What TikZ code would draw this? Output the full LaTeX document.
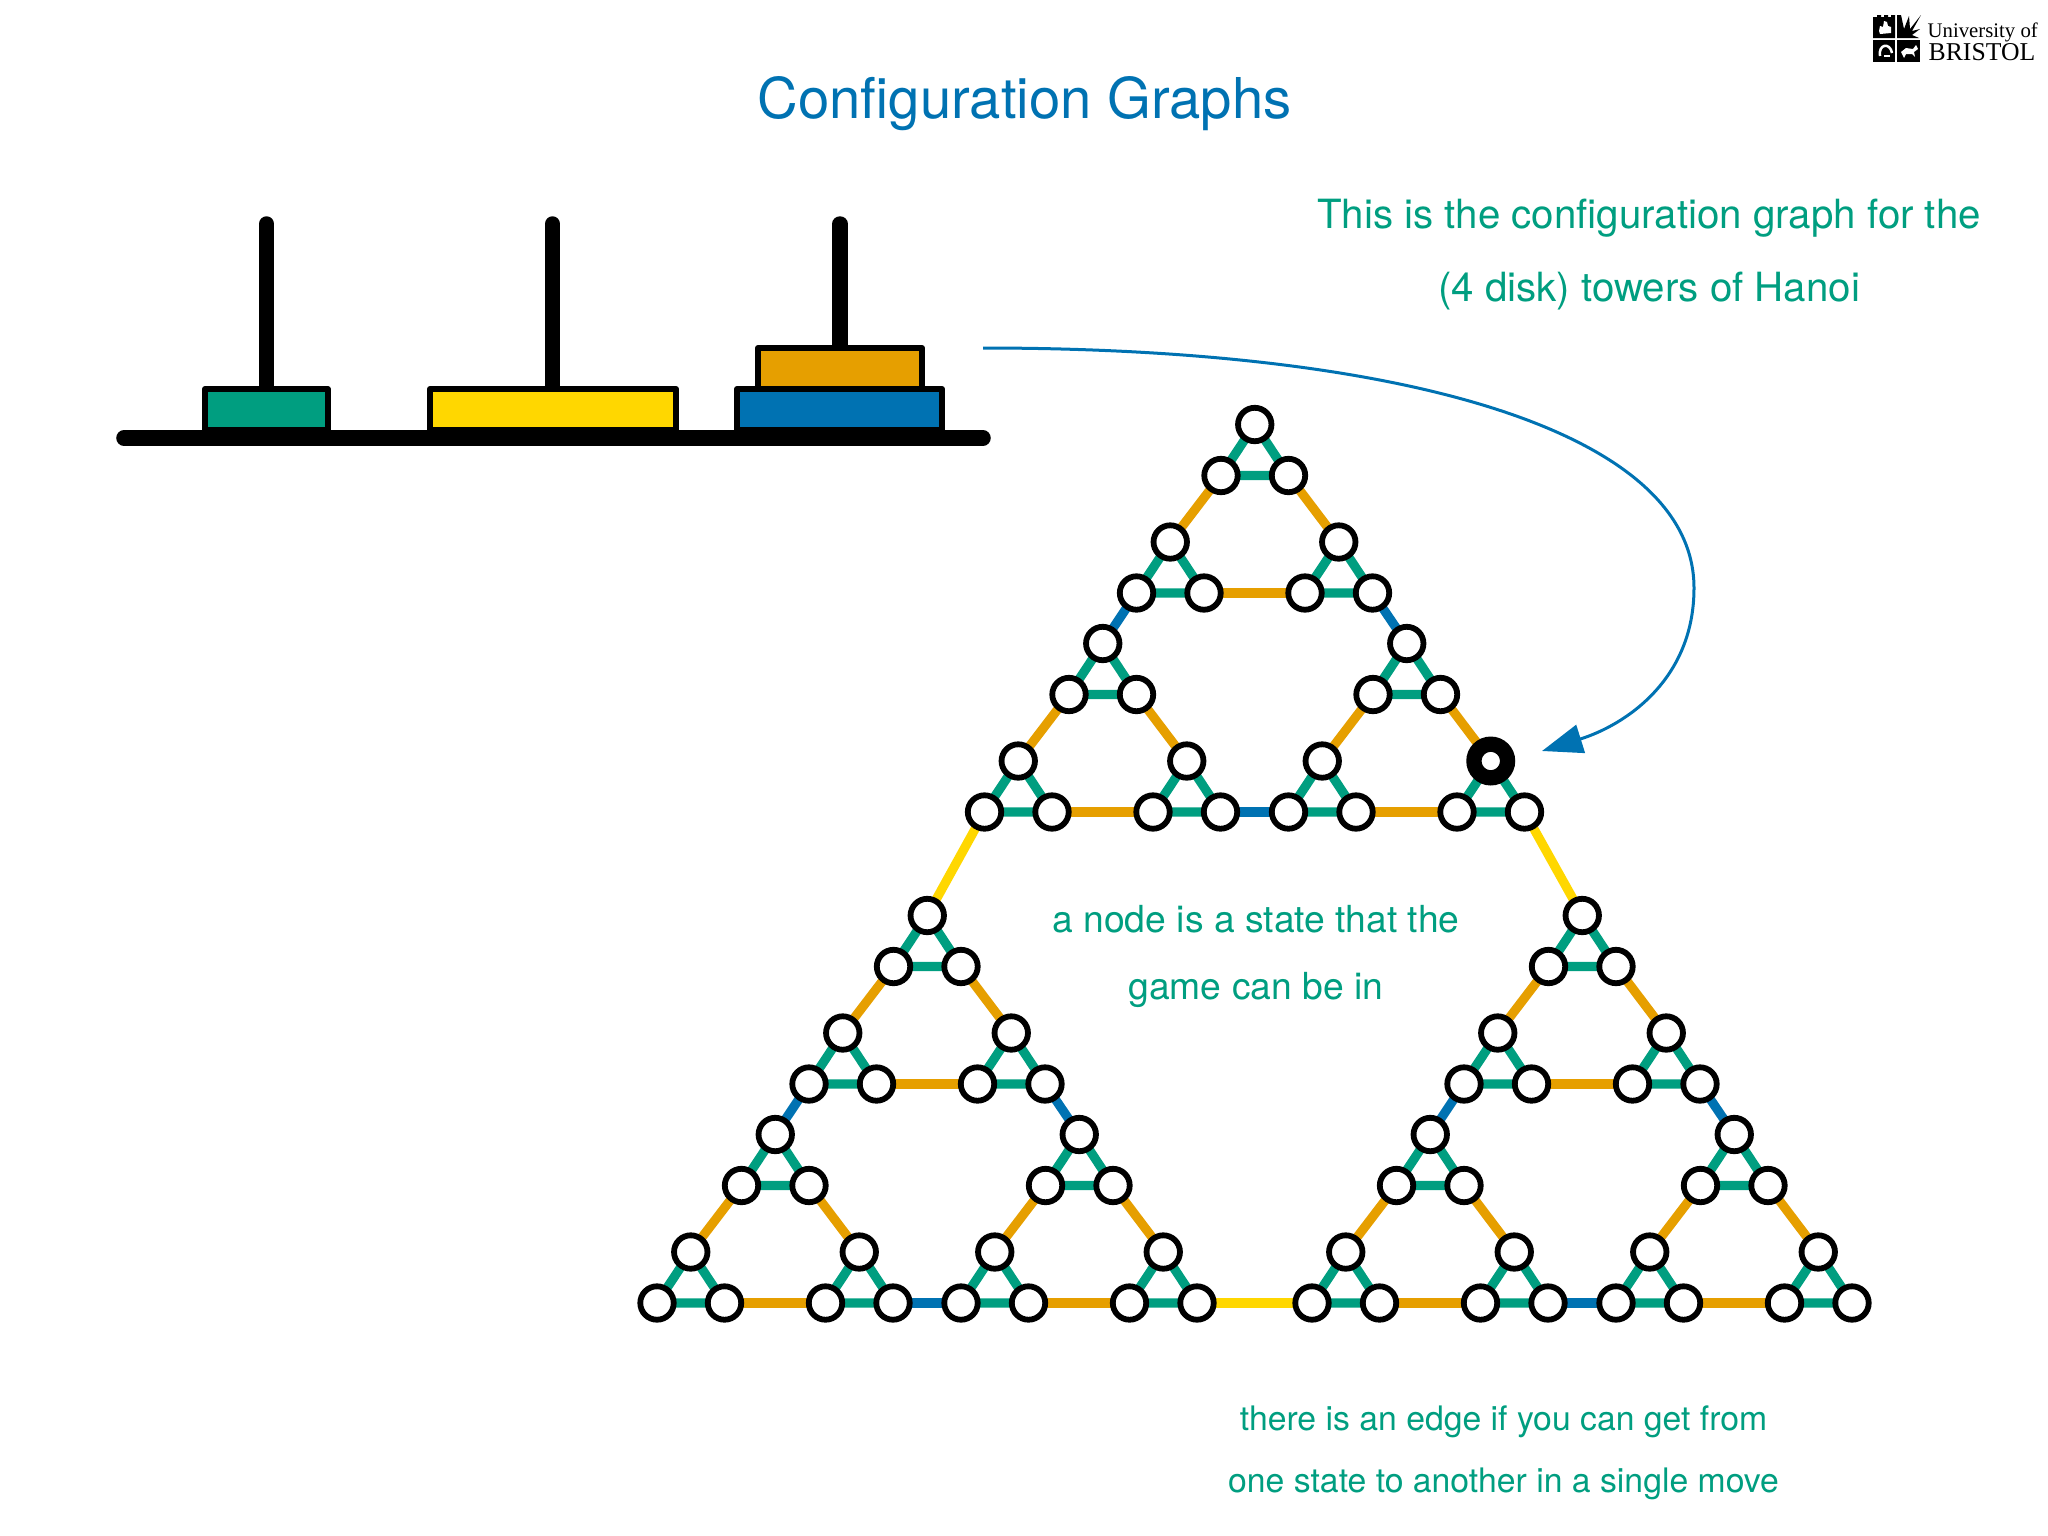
\documentclass[tikz,border=0pt]{standalone}
\usepackage{fontspec}
\setmainfont{TeX Gyre Heros}
\newfontfamily\logofont{Liberation Serif}
\usetikzlibrary{arrows.meta, backgrounds}
\definecolor{mygreen}{HTML}{009E80}
\definecolor{myorange}{HTML}{E69F00}
\definecolor{myblue}{HTML}{0072B2}
\definecolor{myyellow}{HTML}{FFD700}
\tikzset{
    hnode/.style={circle, draw=black, fill=white, line width=0.58mm, minimum size=3.34mm, inner sep=0pt},
    hstate/.style={circle, draw=black, fill=white, line width=1.53mm, minimum size=3.36mm, inner sep=0pt},
    hedge/.style={line width=0.92mm},
    disk/.style={draw=black, line width=0.6mm, line join=round},
    rod/.style={line width=1.55mm, line cap=round},
    greentext/.style={text=mygreen, font=\fontsize{11.45}{14}\selectfont, inner sep=0pt}
}

\begin{document}
\begin{tikzpicture}[x=0.01cm, y=-0.01cm]
        \useasboundingbox (0,0) rectangle (2048,1536);
        \node[text=myblue, font=\fontsize{16}{20}\selectfont, inner sep=0pt] (title) at (1024.5,104) {Configuration Graphs};

        % logo
        \fill (1873,17) -- (1877,17) -- (1877,15) -- (1881,15) -- (1881,17) -- (1884,17) -- (1884,15) -- (1888,15) -- (1888,17) -- (1891,17) -- (1891,15) -- (1895,15) -- (1895,38) -- (1873,38) -- cycle;
        \fill (1873,40) rectangle (1895,62);
        \fill (1897,40) rectangle (1920,62);
        \fill (1897,38) -- (1897,15) -- (1901,15) -- (1904,29) -- (1909,16) -- (1910,29) -- (1921,15) -- (1912,31) -- (1920,29) -- (1912,35) -- (1919,38) -- cycle;
        \fill[white] (1879,31) -- (1880,26) -- (1883,27) -- (1884,21) -- (1887,22) -- (1888,26) -- (1891,27) -- (1891,33) -- (1880,34) -- cycle;
        \draw[white, line width=0.25mm] (1880,56) .. controls (1878,44) and (1890,42) .. (1892,53);
        \fill[white] (1884,55) rectangle (1890,57);
        \fill[white] (1901,52) -- (1906,48) -- (1913,49) -- (1916,45) -- (1918,49) -- (1914,52) -- (1915,57) -- (1912,54) -- (1906,54) -- (1904,58) -- cycle;
        \node[font=\logofont\fontsize{5.9}{7}\selectfont, anchor=base west, inner sep=0pt] (uni) at (1927,37) {University of};
        \node[font=\logofont\fontsize{7.3}{8}\selectfont, anchor=base west, inner sep=0pt] (bristol) at (1928,60) {BRISTOL};

        % towers
        \draw[rod] (266.6,224) -- (266.6,400);
        \draw[rod] (552.5,224) -- (552.5,400);
        \draw[rod] (840,224) -- (840,360);
        \draw[disk, fill=mygreen] (205,389) rectangle (327.8,430);
        \draw[disk, fill=myyellow] (430,389) rectangle (676,430);
        \draw[disk, fill=myorange] (758,348) rectangle (922,389);
        \draw[disk, fill=myblue] (737,389) rectangle (942,430);
        \draw[rod] (124,438) -- (983,438);

        % graph
        \foreach \ka/\xa/\ya in {l/0/0, r/655/0, t/327.5/-491}
        \foreach \kb/\xb/\yb in {l/0/0, r/304/0, t/152/-219}
        \foreach \kc/\xc/\yc in {l/0/0, r/168.5/0, t/84.5/-117.5}
        \foreach \kd/\xd/\yd in {l/0/0, r/67.5/0, t/33.75/-51}
            \node[hnode] (n-\ka-\kb-\kc-\kd) at ({657+\xa+\xb+\xc+\xd},{1303+\ya+\yb+\yc+\yd}) {};
        \node[hstate] (current) at (n-t-r-r-t) {};

        \begin{pgfonlayer}{background}
            \foreach \ka in {l,r,t}
            \foreach \kb in {l,r,t} {
                \foreach \kc in {l,r,t}
                    \draw[hedge, mygreen] (n-\ka-\kb-\kc-l.center) -- (n-\ka-\kb-\kc-r.center) -- (n-\ka-\kb-\kc-t.center) -- cycle;
                \foreach \ea/\eb in {l-r/r-l, l-t/t-l, r-t/t-r}
                    \draw[hedge, myorange] (n-\ka-\kb-\ea.center) -- (n-\ka-\kb-\eb.center);
            }
            \foreach \ka in {l,r,t}
            \foreach \ea/\eb in {l-r-r/r-l-l, l-t-t/t-l-l, r-t-t/t-r-r}
                \draw[hedge, myblue] (n-\ka-\ea.center) -- (n-\ka-\eb.center);
            \foreach \ea/\eb in {l-r-r-r/r-l-l-l, l-t-t-t/t-l-l-l, r-t-t-t/t-r-r-r}
                \draw[hedge, myyellow] (n-\ea.center) -- (n-\eb.center);
        \end{pgfonlayer}

        % arrow to the current state
        \coordinate (arrowstart) at (983,348);
        \coordinate (arrowmid) at (1694,588);
        \coordinate (arrowtip) at (1542,751);
        \draw[-{Triangle[length=4.05mm, width=2.9mm]}, myblue, line width=0.3mm] (arrowstart) .. controls (1400,348) and (1694,430) .. (arrowmid) .. controls (1694,680) and (1625,725) .. (arrowtip);

        \node[greentext] (topa) at (1649,218) {This is the configuration graph for the};
        \node[greentext] (topb) at (1649,291) {(4 disk) towers of Hanoi};
        \node[greentext, font=\fontsize{10.6}{14}\selectfont] (mida) at (1256,919) {a node is a state that the};
        \node[greentext, font=\fontsize{10.6}{14}\selectfont] (midb) at (1256,990) {game can be in};
        \node[greentext, font=\fontsize{9.6}{14}\selectfont] (bota) at (1503.5,1422) {there is an edge if you can get from};
        \node[greentext, font=\fontsize{9.6}{14}\selectfont] (botb) at (1503.5,1483.5) {one state to another in a single move};
    \end{tikzpicture}
\end{document}
